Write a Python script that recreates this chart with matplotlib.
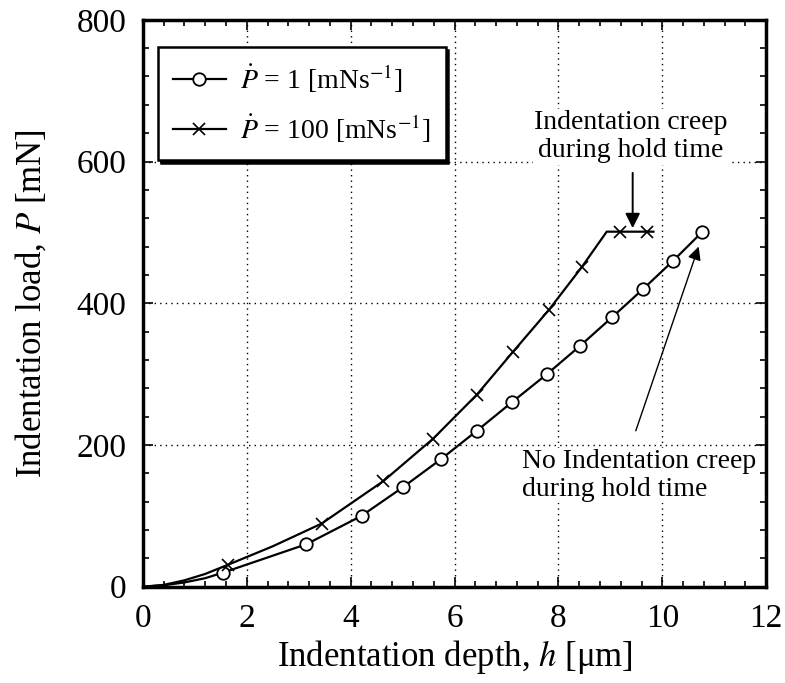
import matplotlib
matplotlib.use("Agg")
import matplotlib.pyplot as plt

plt.rcParams['font.family'] = ['Liberation Serif', 'DejaVu Serif']
plt.rcParams['mathtext.fontset'] = 'stix'

# rate 1 mN/s curve (circles)
h_slow = [0.0, 0.4, 0.8, 1.2, 1.55, 2.35, 3.15, 4.21, 5.0, 5.74, 6.43, 7.1, 7.78, 8.42, 9.03, 9.63, 10.21, 10.76]
p_slow = [0, 2, 6, 12, 20, 40, 60, 100, 140, 180, 220, 260, 300, 340, 380, 420, 460, 500]
h_slow_mk = [1.55, 3.15, 4.21, 5.0, 5.74, 6.43, 7.1, 7.78, 8.42, 9.03, 9.63, 10.21, 10.76]
p_slow_mk = [20, 60, 100, 140, 180, 220, 260, 300, 340, 380, 420, 460, 500]

# rate 100 mN/s curve (crosses), with hold at 500 mN
h_fast = [0.0, 0.4, 0.8, 1.2, 1.64, 2.5, 3.44, 4.63, 5.59, 6.43, 7.12, 7.81, 8.45, 8.93, 9.83]
p_fast = [0, 2.5, 9, 18, 31, 57, 89, 149, 209, 271, 331, 390, 451, 501, 501]
h_fast_mk = [1.64, 3.44, 4.63, 5.59, 6.43, 7.12, 7.81, 8.45, 9.19, 9.70]
p_fast_mk = [31, 89, 149, 209, 271, 331, 390, 451, 501, 501]

fig = plt.figure(figsize=(7.85, 6.83), dpi=100)
ax = fig.add_axes([0.182, 0.141, 0.794, 0.830])

ax.plot(h_slow, p_slow, color='k', lw=1.6, zorder=3)
ax.plot(h_slow_mk, p_slow_mk, ls='none', marker='o', ms=9, mfc='white', mec='k', mew=1.3, zorder=4)
ax.plot(h_fast, p_fast, color='k', lw=1.6, zorder=3)
ax.plot(h_fast_mk, p_fast_mk, ls='none', marker='x', ms=9, mec='k', mew=1.2, zorder=4)

# legend handles
l1, = ax.plot([], [], color='k', lw=1.6, marker='o', ms=9, mfc='white', mec='k', mew=1.3)
l2, = ax.plot([], [], color='k', lw=1.6, marker='x', ms=9, mec='k', mew=1.2)
leg = ax.legend([l1, l2],
                [r'$\dot{P}$ = 1 [mNs$^{\mathrm{-1}}$]', r'$\dot{P}$ = 100 [mNs$^{\mathrm{-1}}$]'],
                loc='upper left', bbox_to_anchor=(0.024, 0.952), fontsize=20,
                frameon=True, fancybox=False, shadow={'color': 'k', 'alpha': 1.0},
                edgecolor='k', framealpha=1, handlelength=1.9, borderpad=0.55,
                labelspacing=0.65, handletextpad=0.5, borderaxespad=0)
leg.get_frame().set_linewidth(1.8)
leg.set_zorder(6)

ax.set_xlim(0, 12)
ax.set_ylim(0, 800)
ax.set_xticks(range(0, 13, 2))
ax.set_yticks(range(0, 801, 200))
ax.set_xticks([i * 0.4 for i in range(31)], minor=True)
ax.set_yticks(range(0, 801, 40), minor=True)
ax.tick_params(which='both', direction='in', top=True, right=True, labelsize=24, width=1.2)
ax.tick_params(which='major', length=7, pad=12)
ax.tick_params(which='minor', length=4)
ax.grid(True, which='major', color='k', ls=(0, (1, 3)), lw=1.0)
for s in ax.spines.values():
    s.set_linewidth(2.5)

ax.set_xlabel('Indentation depth, $h$ [μm]', fontsize=25, labelpad=3)
ax.set_ylabel('Indentation load, $P$ [mN]', fontsize=25, labelpad=20)

ax.text(9.40, 635, 'Indentation creep\nduring hold time', fontsize=20, ha='center', va='center',
        linespacing=1.15, bbox=dict(fc='white', ec='none', pad=1), zorder=5)
ax.annotate('', xy=(9.43, 506), xytext=(9.43, 584),
            arrowprops=dict(arrowstyle='-|>', mutation_scale=22, lw=1.4, color='k', shrinkA=0, shrinkB=0))

ax.text(7.30, 157, 'No Indentation creep\nduring hold time', fontsize=20, ha='left', va='center',
        linespacing=1.15, bbox=dict(fc='white', ec='none', pad=1), zorder=5)
ax.annotate('', xy=(10.70, 480), xytext=(9.49, 220),
            arrowprops=dict(arrowstyle='-|>', mutation_scale=20, lw=1.0, color='k', shrinkA=0, shrinkB=0))

fig.savefig('out.png', dpi=100)
